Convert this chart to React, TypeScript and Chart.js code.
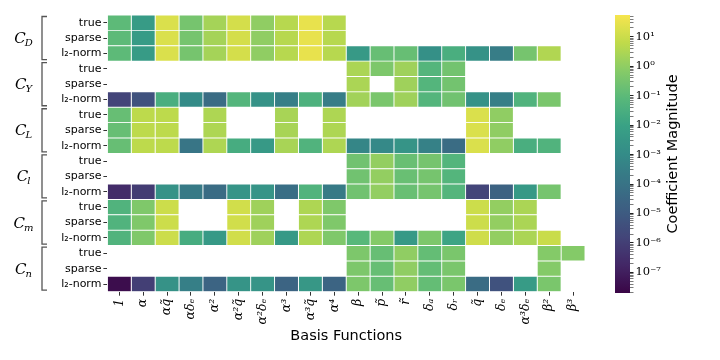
import React, { useEffect, useRef } from "react";
import { Chart, registerables } from "chart.js";
Chart.register(...registerables);

// Basis functions (x axis)
const basisLabels = ["1", "α", "αq̃", "αδₑ", "α²", "α²q̃", "α²δₑ", "α³", "α³q̃", "α⁴", "β", "p̃", "r̃", "δₐ", "δᵣ", "q̃", "δₑ", "α³δₑ", "β²", "β³"];
// Row labels (y axis)
const methodLabels = ["true", "sparse", "l₂-norm"];
const groupSubs = ["D", "Y", "L", "l", "m", "n"];

// log10 of coefficient magnitude, null = not present
const N = null;
const CD_true = [-1.0, -2.3, 1.25, -0.5, 0.35, 1.15, 0.0, 0.65, 1.5, 0.65, N, N, N, N, N, N, N, N, N, N];
const CD_sparse = [-1.0, -2.3, 1.25, -0.5, 0.35, 1.15, 0.0, 0.65, 1.5, 0.65, N, N, N, N, N, N, N, N, N, N];
const CD_l2 = [-1.0, -2.3, 1.25, -0.5, 0.35, 1.15, 0.0, 0.65, 1.5, 0.65, -2.4, -0.8, -0.8, -2.8, -1.5, -2.7, -3.6, -0.5, 0.55, N];
const CY_true = [N, N, N, N, N, N, N, N, N, N, 0.45, -0.35, 0.25, -1.2, -0.55, N, N, N, N, N];
const CY_sparse = [N, N, N, N, N, N, N, N, N, N, 0.45, N, 0.25, -1.2, -0.55, N, N, N, N, N];
const CY_l2 = [-5.8, -5.3, -1.5, -3.0, -4.3, -1.2, -2.7, -3.5, -1.4, -3.6, 0.3, -0.4, 0.25, -1.2, -0.6, -2.7, -3.5, -1.3, -0.4, N];
const CL_true = [-0.8, 0.75, 0.75, N, 0.5, N, N, 0.4, N, 0.5, N, N, N, N, N, 1.25, 0.0, N, N, N];
const CL_sparse = [-0.8, 0.75, 0.75, N, 0.5, N, N, 0.4, N, 0.5, N, N, N, N, N, 1.25, 0.0, N, N, N];
const CL_l2 = [-0.8, 0.75, 0.75, -3.9, 0.5, -1.6, -2.4, 0.4, -1.3, 0.5, -3.2, -3.1, -2.6, -3.4, -4.3, 1.25, 0.0, -1.5, -1.3, N];
const Cl_true = [N, N, N, N, N, N, N, N, N, N, -0.6, 0.05, -0.75, -0.5, -1.2, N, N, N, N, N];
const Cl_sparse = [N, N, N, N, N, N, N, N, N, N, -0.6, 0.05, -0.75, -0.5, -1.2, N, N, N, N, N];
const Cl_l2 = [-6.6, -6.1, -2.7, -3.7, -4.3, -2.6, -2.6, -4.2, -1.3, -3.7, -0.6, 0.05, -0.75, -0.5, -1.2, -5.8, -4.7, -2.4, -0.5, N];
const Cm_true = [-1.3, -0.3, 1.0, N, N, 1.1, 0.25, N, 0.5, -0.3, N, N, N, N, N, 1.0, 0.05, 0.45, N, N];
const Cm_sparse = [-1.3, -0.3, 1.0, N, N, 1.1, 0.25, N, 0.5, -0.3, N, N, N, N, N, 1.0, 0.05, 0.45, N, N];
const Cm_l2 = [-1.3, -0.3, 1.0, -1.6, -2.4, 1.1, 0.25, -2.4, 0.5, -0.3, -1.1, -0.2, -2.4, -0.35, -1.9, 1.05, 0.05, 0.45, 0.95, N];
const Cn_true = [N, N, N, N, N, N, N, N, N, N, -0.35, -0.8, 0.0, -0.85, -0.4, N, N, N, -0.2, -0.2];
const Cn_sparse = [N, N, N, N, N, N, N, N, N, N, -0.35, -0.8, 0.0, -0.85, -0.4, N, N, N, -0.2, N];
const Cn_l2 = [-7.5, -6.0, -2.7, -3.5, -4.6, -2.6, -2.6, -4.6, -2.5, -4.6, -0.35, -0.8, 0.0, -0.85, -0.4, -4.3, -5.3, -2.3, -0.4, N];

const rowsData = [
  CD_true, CD_sparse, CD_l2,
  CY_true, CY_sparse, CY_l2,
  CL_true, CL_sparse, CL_l2,
  Cl_true, Cl_sparse, Cl_l2,
  Cm_true, Cm_sparse, Cm_l2,
  Cn_true, Cn_sparse, Cn_l2,
];
const rowLabels = groupSubs.flatMap(() => methodLabels);

// Colour scale range (log10)
const LOG_MIN = -7.7;
const LOG_MAX = 1.74;
const cbTickExps = [1, 0, -1, -2, -3, -4, -5, -6, -7];

const VIRIDIS = ["#440154", "#482475", "#414487", "#355f8d", "#2a788e", "#21918c", "#22a884", "#44bf70", "#7ad151", "#bddf26", "#fde725"];
const SAT = 0.78;
function hexToRgb(h: string) {
  return [parseInt(h.slice(1, 3), 16), parseInt(h.slice(3, 5), 16), parseInt(h.slice(5, 7), 16)];
}
function viridis(t: number) {
  t = Math.max(0, Math.min(1, t));
  const p = t * (VIRIDIS.length - 1);
  const i = Math.min(VIRIDIS.length - 2, Math.floor(p));
  const f = p - i;
  const a = hexToRgb(VIRIDIS[i]);
  const b = hexToRgb(VIRIDIS[i + 1]);
  const c = a.map((v, k) => v + (b[k] - v) * f);
  const L = 0.2126 * c[0] + 0.7152 * c[1] + 0.0722 * c[2];
  const d = c.map((v) => Math.round(Math.max(0, Math.min(255, L + SAT * (v - L)))));
  return `rgb(${d[0]},${d[1]},${d[2]})`;
}
const colorFor = (lv: number) => viridis((lv - LOG_MIN) / (LOG_MAX - LOG_MIN));

const supMap: Record<string, string> = { "-": "⁻", "0": "⁰", "1": "¹", "2": "²", "3": "³", "4": "⁴", "5": "⁵", "6": "⁶", "7": "⁷", "8": "⁸", "9": "⁹" };
const sup = (n: number) => String(n).split("").map((ch) => supMap[ch] ?? ch).join("");

const annotatePlugin = {
  id: "annotate",
  afterDraw(chart: any) {
    const { ctx, chartArea, scales } = chart;
    const y = scales.y;
    const rowH = (chartArea.bottom - chartArea.top) / rowLabels.length;
    ctx.save();
    groupSubs.forEach((g, gi) => {
      const top = y.getPixelForValue(gi * 3) - rowH / 2;
      const bot = y.getPixelForValue(gi * 3 + 2) + rowH / 2;
      ctx.strokeStyle = "#555";
      ctx.lineWidth = 1.3;
      ctx.beginPath();
      ctx.moveTo(47, top + 1.5);
      ctx.lineTo(42, top + 1.5);
      ctx.lineTo(42, bot - 1.5);
      ctx.lineTo(47, bot - 1.5);
      ctx.stroke();
      const cy = (top + bot) / 2;
      ctx.fillStyle = "#000";
      ctx.textBaseline = "alphabetic";
      ctx.textAlign = "left";
      ctx.font = 'italic 15px "DejaVu Serif"';
      const wC = ctx.measureText("C").width;
      ctx.font = 'italic 10px "DejaVu Serif"';
      const wS = ctx.measureText(g).width;
      const x0 = 24 - (wC + wS) / 2;
      ctx.font = 'italic 15px "DejaVu Serif"';
      ctx.fillText("C", x0, cy + 5);
      ctx.font = 'italic 10px "DejaVu Serif"';
      ctx.fillText(g, x0 + wC - 1, cy + 8);
    });
    ctx.font = '14.5px "DejaVu Sans"';
    ctx.textAlign = "center";
    ctx.textBaseline = "middle";
    ctx.fillStyle = "#000";
    ctx.fillText("Basis Functions", (chartArea.left + chartArea.right) / 2, 336);
    ctx.restore();
  },
};

const cbTitlePlugin = {
  id: "cbTitle",
  afterDraw(chart: any) {
    const { ctx, chartArea } = chart;
    ctx.save();
    ctx.translate(73, (chartArea.top + chartArea.bottom) / 2);
    ctx.rotate(-Math.PI / 2);
    ctx.font = '14.5px "DejaVu Sans"';
    ctx.fillStyle = "#000";
    ctx.textAlign = "center";
    ctx.textBaseline = "middle";
    ctx.fillText("Coefficient Magnitude", 0, 0);
    ctx.restore();
  },
};

export default function App() {
  const mainRef = useRef<HTMLCanvasElement>(null);
  const cbRef = useRef<HTMLCanvasElement>(null);

  useEffect(() => {
    const datasets = basisLabels.map((_, c) => ({
      label: basisLabels[c],
      data: rowsData.map((r) => (r[c] == null ? null : [c - 0.5, c + 0.5])),
      backgroundColor: rowsData.map((r) => (r[c] == null ? "rgba(0,0,0,0)" : colorFor(r[c] as number))),
      borderColor: "#ffffff",
      borderWidth: 0.8,
      borderSkipped: false,
      grouped: false,
      barPercentage: 1,
      categoryPercentage: 1,
    }));

    const main = new Chart(mainRef.current!, {
      type: "bar",
      data: { labels: rowLabels, datasets: datasets as any },
      options: {
        indexAxis: "y",
        animation: false,
        responsive: false,
        maintainAspectRatio: false,
        layout: { padding: { left: 0, right: 15, top: 15, bottom: 0 } },
        plugins: { legend: { display: false }, tooltip: { enabled: false } },
        scales: {
          y: {
            type: "category",
            offset: true,
            grid: { display: true, drawOnChartArea: false, drawTicks: true, tickLength: 4, offset: false, color: "#333" },
            border: { display: false },
            ticks: { autoSkip: false, padding: 2, color: "#000", font: { family: "DejaVu Sans", size: 11 } },
            afterFit: (s: any) => { s.width = 107.4; },
          },
          x: {
            type: "linear",
            min: -0.5,
            max: 19.5,
            grid: { display: true, drawOnChartArea: false, drawTicks: true, tickLength: 4, color: "#333" },
            border: { display: false },
            afterBuildTicks: (s: any) => { s.ticks = basisLabels.map((_, i) => ({ value: i })); },
            ticks: {
              autoSkip: false,
              minRotation: 90,
              maxRotation: 90,
              padding: 3,
              color: "#000",
              font: { family: "DejaVu Serif", style: "italic", size: 12.5 },
              callback: (v: any) => basisLabels[v] ?? "",
            },
            afterFit: (s: any) => { s.height = 68.3; },
          },
        },
      } as any,
      plugins: [annotatePlugin],
    });

    const vmin = Math.pow(10, LOG_MIN);
    const vmax = Math.pow(10, LOG_MAX);
    const cb = new Chart(cbRef.current!, {
      type: "bar",
      data: {
        labels: ["cb"],
        datasets: [{
          data: [[vmin, vmax]] as any,
          backgroundColor: (ctx: any) => {
            const { chartArea, ctx: c } = ctx.chart;
            if (!chartArea) return "#888";
            const g = c.createLinearGradient(0, chartArea.bottom, 0, chartArea.top);
            for (let i = 0; i <= 40; i++) g.addColorStop(i / 40, viridis(i / 40));
            return g;
          },
          borderWidth: 0,
          barPercentage: 1,
          categoryPercentage: 1,
        }],
      },
      options: {
        animation: false,
        responsive: false,
        maintainAspectRatio: false,
        layout: { padding: { left: 15, right: 0, top: 15, bottom: 67 } },
        plugins: { legend: { display: false }, tooltip: { enabled: false } },
        scales: {
          x: { display: false },
          y: {
            type: "logarithmic",
            position: "right",
            min: vmin,
            max: vmax,
            border: { display: false },
            grid: {
              display: true,
              drawOnChartArea: false,
              drawTicks: true,
              tickLength: 3.5,
              tickWidth: (ctx: any) => (ctx.tick && ctx.tick.major ? 1 : 0.6),
              color: "#222",
            },
            afterBuildTicks: (s: any) => {
              const t: any[] = [];
              for (let e = -8; e <= 1; e++) {
                for (let k = 1; k <= 9; k++) {
                  const v = k * Math.pow(10, e);
                  if (v >= vmin && v <= vmax) t.push({ value: v, major: k === 1 });
                }
              }
              s.ticks = t;
            },
            ticks: {
              autoSkip: false,
              padding: 2,
              color: "#000",
              font: { family: "DejaVu Serif", size: 11.5 },
              callback: (v: any) => {
                const e = Math.round(Math.log10(v));
                if (Math.abs(v - Math.pow(10, e)) / Math.pow(10, e) < 1e-6 && cbTickExps.includes(e)) return "10" + sup(e);
                return "";
              },
            },
            afterFit: (s: any) => { s.width = 90; },
          },
        },
      } as any,
      plugins: [cbTitlePlugin],
    });

    return () => { main.destroy(); cb.destroy(); };
  }, []);

  return (
    <div style={{ position: "absolute", left: 0, top: 0, width: 720, height: 360, background: "#fff" }}>
      <canvas ref={mainRef} width={600} height={360} style={{ position: "absolute", left: 0, top: 0, width: 600, height: 360 }} />
      <canvas ref={cbRef} width={120} height={360} style={{ position: "absolute", left: 600, top: 0, width: 120, height: 360 }} />
    </div>
  );
}
